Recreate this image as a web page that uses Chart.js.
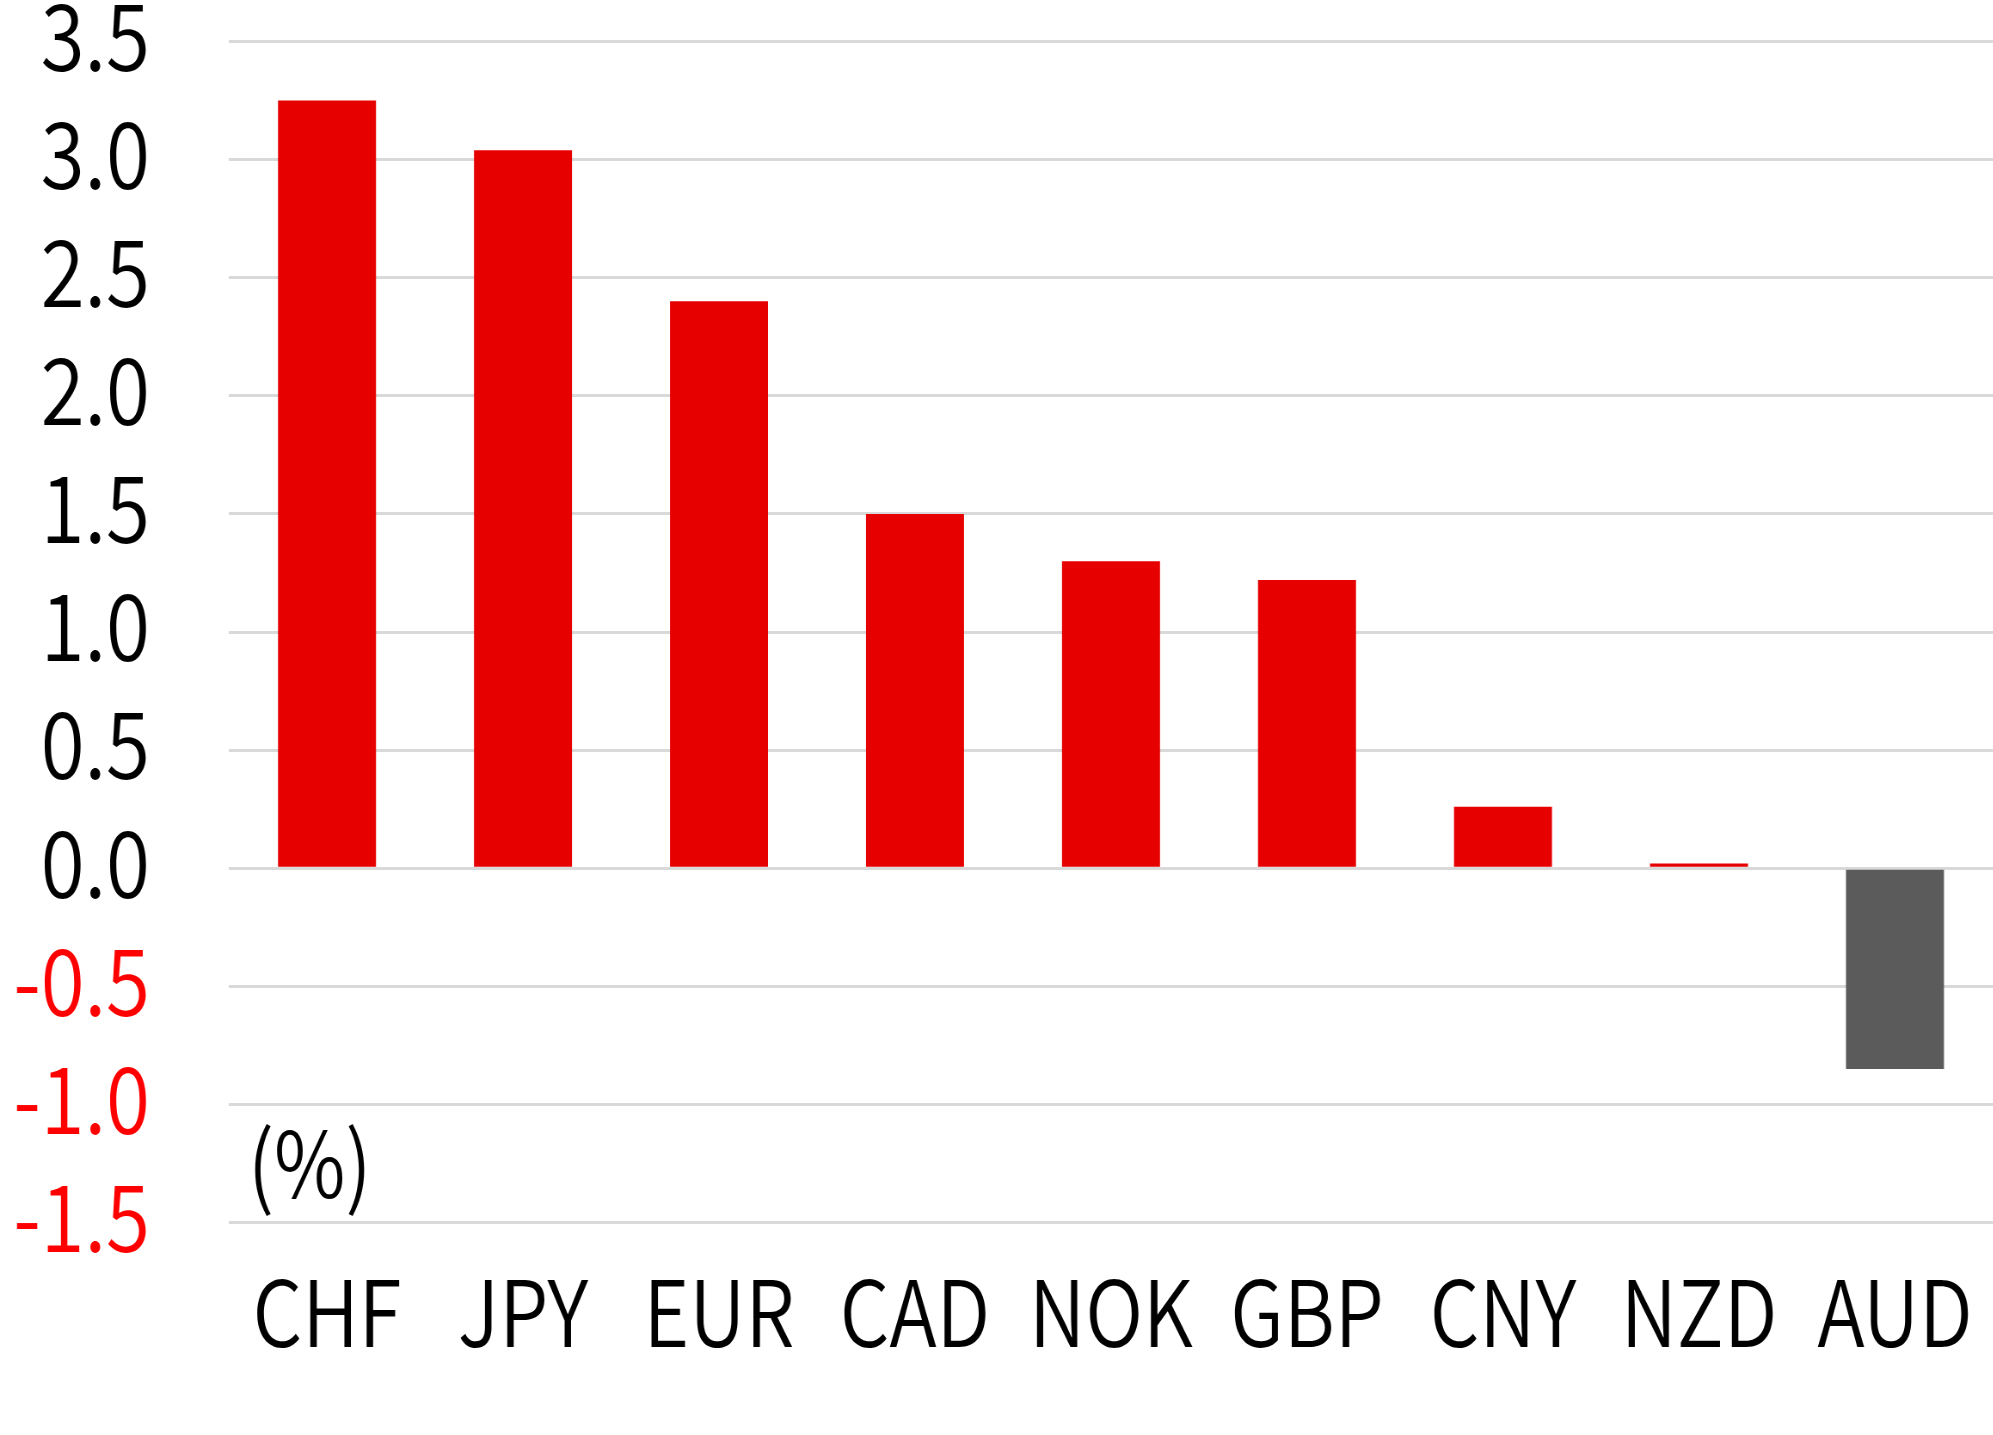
<!DOCTYPE html>
<html>
<head>
<meta charset="utf-8">
<script src="https://cdn.jsdelivr.net/npm/chart.js@4"></script>
<style>
  html, body { margin: 0; padding: 0; background: #fff; overflow: hidden; }
  #wrap { position: relative; height: 1435px; transform-origin: 0 0; }
</style>
</head>
<body>
<div id="wrap"><canvas id="chart"></canvas></div>
<script>
const categories = ['CHF', 'JPY', 'EUR', 'CAD', 'NOK', 'GBP', 'CNY', 'NZD', 'AUD'];
const values = [3.25, 3.04, 2.40, 1.50, 1.30, 1.22, 0.26, 0.02, -0.85];
const yMin = -1.5;
const yMax = 3.5;
const yStep = 0.5;
const unitLabel = '(%)';

// text in the reference is horizontally condensed, so draw wide and squeeze
const squeeze = 0.86;
const W = 1993, H = 1435;
const wrap = document.getElementById('wrap');
wrap.style.width = (W / squeeze) + 'px';
wrap.style.transform = `scaleX(${squeeze})`;

const FONT = "'Noto Sans CJK JP', 'Noto Sans', sans-serif";
const WEIGHT = 350;
const plotLeft = 229, plotTop = 41.5, plotBottom = 1222.5;

const unitText = {
  id: 'unitText',
  afterDraw(chart) {
    const ctx = chart.ctx;
    ctx.save();
    ctx.font = `${WEIGHT} 91px ${FONT}`;
    ctx.fillStyle = '#000';
    ctx.textBaseline = 'alphabetic';
    ctx.textAlign = 'left';
    ctx.fillText(unitLabel, 248 / squeeze, 1198);
    ctx.restore();
  }
};

new Chart(document.getElementById('chart'), {
  type: 'bar',
  data: {
    labels: categories,
    datasets: [{
      data: values,
      backgroundColor: values.map((v) => (v >= 0 ? '#e60000' : '#5b5b5b')),
      borderWidth: 0,
      barPercentage: 0.5,
      categoryPercentage: 1
    }]
  },
  options: {
    responsive: true,
    maintainAspectRatio: false,
    animation: false,
    layout: { padding: { top: plotTop, left: 0, right: 0, bottom: 0 } },
    plugins: { legend: { display: false }, tooltip: { enabled: false } },
    scales: {
      x: {
        grid: { display: false, drawTicks: false },
        border: { display: false },
        ticks: {
          color: '#000',
          padding: 49,
          maxRotation: 0,
          autoSkip: false,
          font: { family: FONT, size: 91, weight: WEIGHT, lineHeight: 0.9 }
        },
        afterFit(scale) {
          scale.height = H - plotBottom;
          scale.paddingLeft = 0;
          scale.paddingRight = 0;
        }
      },
      y: {
        min: yMin,
        max: yMax,
        grid: { color: '#d9d9d9', lineWidth: 3, drawTicks: false },
        border: { display: false },
        ticks: {
          stepSize: yStep,
          padding: 79 / squeeze,
          labelOffset: -6,
          color: (c) => (c.tick.value < 0 ? '#ff0000' : '#000'),
          font: { family: FONT, size: 93, weight: WEIGHT, lineHeight: 0.9 },
          callback: (v) => v.toFixed(1)
        },
        afterFit(scale) {
          scale.width = plotLeft / squeeze;
          scale.paddingTop = 0;
          scale.paddingBottom = 0;
        }
      }
    }
  },
  plugins: [unitText]
});
</script>
</body>
</html>
